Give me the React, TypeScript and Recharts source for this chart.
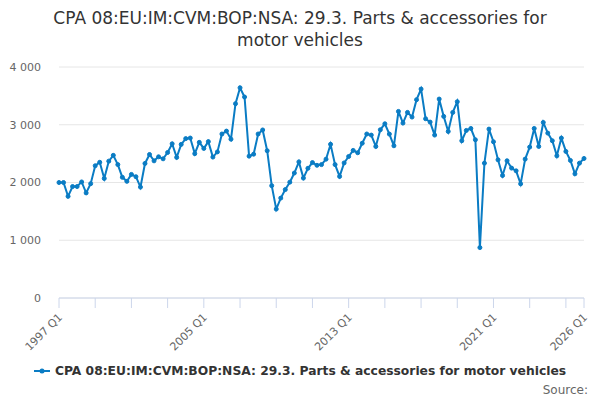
import React from 'react';
import { LineChart, Line, XAxis, YAxis, CartesianGrid } from 'recharts';

// quarterly values, 1997 Q1 .. 2026 Q1
const values = [
  2000, 2000, 1760, 1930, 1930, 2010, 1820, 1980, 2290, 2350,
  2070, 2370, 2470, 2310, 2090, 2020, 2140, 2100, 1920, 2330,
  2485, 2375, 2445, 2410, 2520, 2670, 2435, 2660, 2760, 2770,
  2500, 2695, 2590, 2708, 2440, 2530, 2840, 2890, 2750, 3365,
  3640, 3480, 2456, 2490, 2840, 2910, 2550, 1945, 1540, 1730,
  1877, 2006, 2164, 2357, 2076, 2246, 2345, 2298, 2310, 2404,
  2661, 2310, 2105, 2339, 2450, 2556, 2515, 2680, 2840, 2821,
  2624, 2913, 3017, 2838, 2636, 3231, 3029, 3214, 3133, 3434,
  3618, 3104, 3046, 2821, 3445, 3145, 2884, 3214, 3399, 2723,
  2902, 2936, 2740, 873, 2335, 2925, 2705, 2393, 2121, 2376,
  2249, 2202, 1977, 2405, 2613, 2936, 2624, 3040, 2855, 2723,
  2462, 2769, 2538, 2382, 2150, 2335, 2416,
];

const startYear = 1997;
const quarterLabel = (i: number) => `${startYear + Math.floor(i / 4)} Q${(i % 4) + 1}`;

const tickPositions = [0, 8, 16, 24, 32, 40, 48, 56, 64, 72, 80, 88, 96, 104, 112, 116];
const labelledTicks = ['1997 Q1', '2005 Q1', '2013 Q1', '2021 Q1', '2026 Q1'];
const yTicks = [0, 1000, 2000, 3000, 4000];

const seriesName = 'CPA 08:EU:IM:CVM:BOP:NSA: 29.3. Parts & accessories for motor vehicles';
const titleLines = ['CPA 08:EU:IM:CVM:BOP:NSA: 29.3. Parts & accessories for', 'motor vehicles'];

const data = values.map((v, i) => ({ q: i, label: quarterLabel(i), value: v }));

const FONT = '"DejaVu Sans", sans-serif';
const BLUE = '#0a7cc4';

const XTick = ({ x, y, payload }: any) => {
  const text = quarterLabel(payload.value);
  if (!labelledTicks.includes(text)) return null;
  return (
    <g transform={`translate(${x + 4},${y + 8})`}>
      <text x={0} y={0} textAnchor="end" transform="rotate(-45)" fill="#666" fontSize={11} fontFamily={FONT}>
        {text}
      </text>
    </g>
  );
};

const fmt = (v: number) => (v >= 1000 ? `${Math.floor(v / 1000)} ${String(v % 1000).padStart(3, '0')}` : String(v));

export default function App() {
  return (
    <div style={{ position: 'absolute', left: 0, top: 0, width: 600, height: 400, background: '#fff', fontFamily: FONT }}>
      <div style={{ position: 'absolute', top: 7, left: 0, width: 600, textAlign: 'center', fontSize: 17, lineHeight: '22px', color: '#333' }}>
        {titleLines.map((t) => (
          <div key={t}>{t}</div>
        ))}
      </div>
      <LineChart width={600} height={400} data={data} margin={{ top: 67, right: 16, bottom: 62, left: 9 }}>
        <CartesianGrid vertical={false} stroke="#e6e6e6" />
        <XAxis
          dataKey="q"
          type="number"
          domain={[0, 116]}
          ticks={tickPositions}
          interval={0}
          tick={<XTick />}
          tickSize={10}
          axisLine={{ stroke: '#ccd6eb' }}
          tickLine={{ stroke: '#ccd6eb' }}
          height={40}
        />
        <YAxis
          domain={[0, 4000]}
          ticks={yTicks}
          axisLine={false}
          tickLine={false}
          width={50}
          tickFormatter={fmt}
          tick={{ fill: '#666', fontSize: 11, fontFamily: FONT, dx: -10 }}
        />
        <Line
          type="linear"
          dataKey="value"
          stroke={BLUE}
          strokeWidth={2}
          dot={{ r: 2, fill: BLUE, stroke: BLUE, strokeWidth: 1 }}
          isAnimationActive={false}
        />
      </LineChart>
      <div style={{ position: 'absolute', top: 364, left: 0, width: 600, display: 'flex', justifyContent: 'center', alignItems: 'center' }}>
        <svg width={16} height={12} style={{ marginRight: 5 }}>
          <line x1={0} y1={6} x2={16} y2={6} stroke={BLUE} strokeWidth={2} />
          <circle cx={8} cy={6} r={2.5} fill={BLUE} />
        </svg>
        <span style={{ fontSize: 12.3, fontWeight: 'bold', color: '#333' }}>{seriesName}</span>
      </div>
      <div style={{ position: 'absolute', top: 383, right: 12, fontSize: 12, color: '#666' }}>Source:</div>
    </div>
  );
}
